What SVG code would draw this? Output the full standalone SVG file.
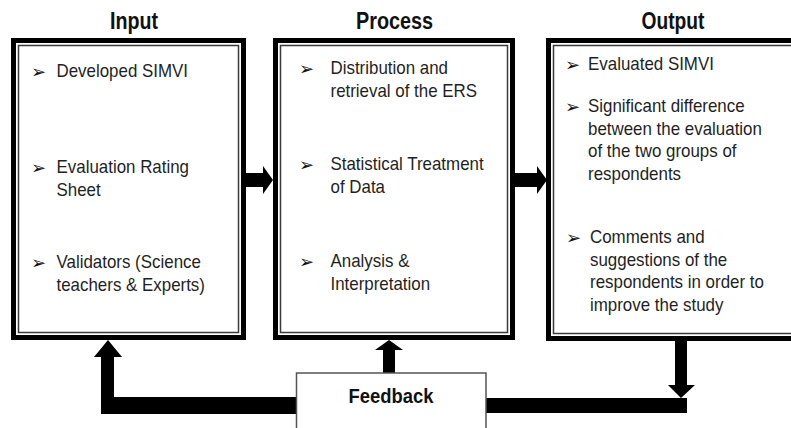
<svg xmlns="http://www.w3.org/2000/svg" width="791" height="428" viewBox="0 0 791 428">
  <style>
    .frame { fill: #ffffff; stroke: #000000; stroke-width: 5; }
    .inner { fill: none; stroke: #3a3a3a; stroke-width: 1.5; }
    .head { font-family: "Liberation Sans", Arial, sans-serif; font-weight: bold; font-size: 23px; fill: #111111; text-anchor: middle; }
    .item { font-family: "Liberation Sans", Arial, sans-serif; font-size: 18px; fill: #1f1f1f; }
    .bullet { font-family: "DejaVu Sans", sans-serif; font-size: 18px; fill: #111111; }
    .arrow { fill: #000000; }
    .fb { fill: #ffffff; stroke: #555555; stroke-width: 1.5; }
    .fbtext { font-family: "Liberation Sans", Arial, sans-serif; font-weight: bold; font-size: 20px; fill: #111111; text-anchor: middle; }
  </style>

  <rect width="791" height="428" fill="#ffffff"/>

  <!-- column headings -->
  <text class="head" x="134" y="29" textLength="48" lengthAdjust="spacingAndGlyphs">Input</text>
  <text class="head" x="394.5" y="29" textLength="77" lengthAdjust="spacingAndGlyphs">Process</text>
  <text class="head" x="673" y="29" textLength="63" lengthAdjust="spacingAndGlyphs">Output</text>

  <!-- connectors -->
  <g id="connectors">
    <!-- Input to Process -->
    <polygon class="arrow" points="246,173 263,173 263,166 273,180 263,194 263,187 246,187"/>
    <!-- Process to Output -->
    <polygon class="arrow" points="515,173 537,173 537,166 547,180 537,194 537,187 515,187"/>
    <!-- Output down to the feedback line -->
    <polygon class="arrow" points="675,341 687,341 687,385 695,385 681,398 668,385 675,385"/>
    <rect class="arrow" x="486" y="398" width="201" height="15"/>
    <!-- feedback line back up to Input -->
    <polygon class="arrow" points="296,397 296,414 101,414 101,357 94,357 108,340 122,357 114,357 114,397"/>
    <!-- feedback up to Process -->
    <polygon class="arrow" points="383,373 383,350 375,350 389,340 403,350 395,350 395,373"/>
  </g>

  <!-- Input -->
  <g id="input">
    <rect class="frame" x="13.5" y="40.5" width="230" height="297"/>
    <rect class="inner" x="18.5" y="45.5" width="220" height="287"/>
    <text class="bullet" x="31" y="78">➢</text>
    <text class="item" transform="matrix(0.94 0 0 1 56.5 0)" y="77">Developed SIMVI</text>
    <text class="bullet" x="31" y="174">➢</text>
    <text class="item" transform="matrix(0.94 0 0 1 56.5 0)" y="173">Evaluation Rating</text>
    <text class="item" transform="matrix(0.94 0 0 1 56.5 0)" y="196">Sheet</text>
    <text class="bullet" x="31" y="269">➢</text>
    <text class="item" transform="matrix(0.94 0 0 1 56.5 0)" y="268">Validators (Science</text>
    <text class="item" transform="matrix(0.94 0 0 1 56.5 0)" y="291">teachers &amp; Experts)</text>
  </g>

  <!-- Process -->
  <g id="process">
    <rect class="frame" x="275.5" y="40.5" width="237" height="297"/>
    <rect class="inner" x="280.5" y="45.5" width="227" height="287"/>
    <text class="bullet" x="299" y="75">➢</text>
    <text class="item" transform="matrix(0.94 0 0 1 330.5 0)" y="74">Distribution and</text>
    <text class="item" transform="matrix(0.94 0 0 1 330.5 0)" y="97.5">retrieval of the ERS</text>
    <text class="bullet" x="299" y="171">➢</text>
    <text class="item" transform="matrix(0.94 0 0 1 330.5 0)" y="170">Statistical Treatment</text>
    <text class="item" transform="matrix(0.94 0 0 1 330.5 0)" y="193.5">of Data</text>
    <text class="bullet" x="299" y="268">➢</text>
    <text class="item" transform="matrix(0.94 0 0 1 330.5 0)" y="267">Analysis &amp;</text>
    <text class="item" transform="matrix(0.94 0 0 1 330.5 0)" y="290">Interpretation</text>
  </g>

  <!-- Output -->
  <g id="output">
    <rect class="frame" x="548.5" y="40.5" width="260" height="298"/>
    <rect class="inner" x="553.5" y="45.5" width="250" height="288"/>
    <text class="bullet" x="565" y="71">➢</text>
    <text class="item" transform="matrix(0.94 0 0 1 588 0)" y="70">Evaluated SIMVI</text>
    <text class="bullet" x="565" y="113">➢</text>
    <text class="item" transform="matrix(0.94 0 0 1 588 0)" y="112">Significant difference</text>
    <text class="item" transform="matrix(0.94 0 0 1 588 0)" y="135">between the evaluation</text>
    <text class="item" transform="matrix(0.94 0 0 1 588 0)" y="157.5">of the two groups of</text>
    <text class="item" transform="matrix(0.94 0 0 1 588 0)" y="180">respondents</text>
    <text class="bullet" x="566" y="244">➢</text>
    <text class="item" transform="matrix(0.94 0 0 1 590 0)" y="243">Comments and</text>
    <text class="item" transform="matrix(0.94 0 0 1 590 0)" y="266">suggestions of the</text>
    <text class="item" transform="matrix(0.94 0 0 1 590 0)" y="288.5">respondents in order to</text>
    <text class="item" transform="matrix(0.94 0 0 1 590 0)" y="311.5">improve the study</text>
  </g>

  <!-- Feedback -->
  <g id="feedback">
    <rect class="fb" x="296.5" y="373" width="189.5" height="70"/>
    <text class="fbtext" x="391" y="403" textLength="85" lengthAdjust="spacingAndGlyphs">Feedback</text>
  </g>
</svg>
